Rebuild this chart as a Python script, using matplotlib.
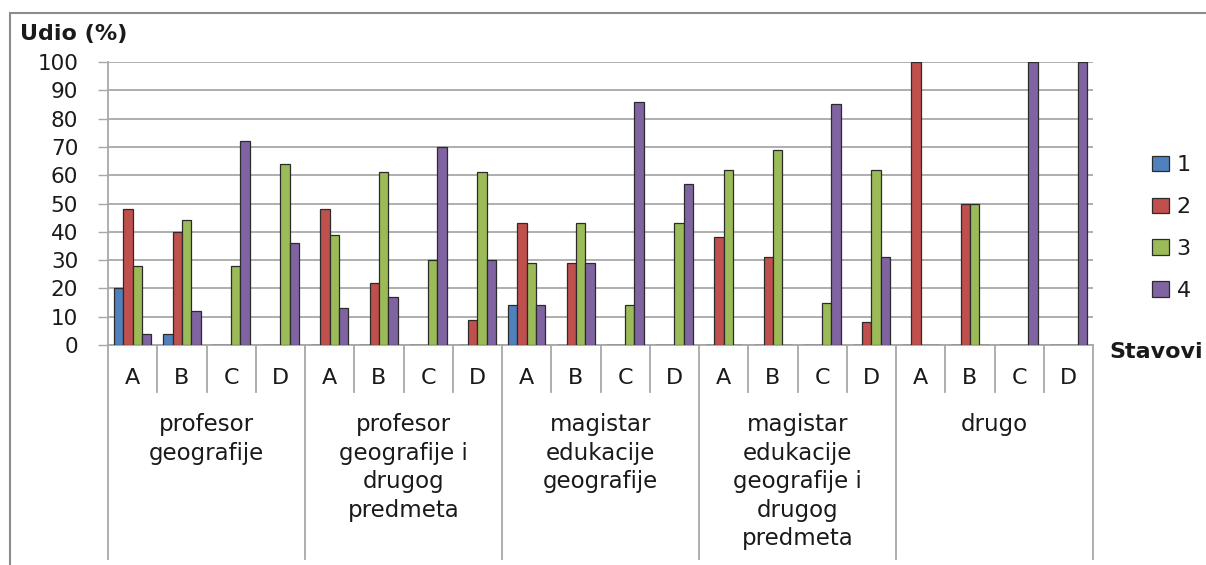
import matplotlib
matplotlib.use("Agg")
import matplotlib.pyplot as plt
import matplotlib.transforms as mtransforms
from matplotlib.patches import Rectangle
import numpy as np

plt.rcParams['font.family'] = ['DejaVu Sans']

groups = ["profesor\ngeografije",
          "profesor\ngeografije i\ndrugog\npredmeta",
          "magistar\nedukacije\ngeografije",
          "magistar\nedukacije\ngeografije i\ndrugog\npredmeta",
          "drugo"]
stances = ["A", "B", "C", "D"]
series_names = ["1", "2", "3", "4"]

s1 = [20, 4, 0, 0,   0, 0, 0, 0,    14, 0, 0, 0,   0, 0, 0, 0,    0, 0, 0, 0]
s2 = [48, 40, 0, 0,  48, 22, 0, 9,  43, 29, 0, 0,  38, 31, 0, 8,  100, 50, 0, 0]
s3 = [28, 44, 28, 64, 39, 61, 30, 61, 29, 43, 14, 43, 62, 69, 15, 62, 0, 50, 0, 0]
s4 = [4, 12, 72, 36, 13, 17, 70, 30, 14, 29, 86, 57, 0, 0, 85, 31, 0, 0, 100, 100]
series = [s1, s2, s3, s4]
colors = ["#4F81BD", "#C0504D", "#9BBB59", "#8064A2"]

W, H = 1206, 565
fig = plt.figure(figsize=(W / 100, H / 100), dpi=100)
x0, x1, ytop, ybot = 108, 1093, 62, 345
ax = fig.add_axes([x0 / W, (H - ybot) / H, (x1 - x0) / W, (ybot - ytop) / H])

ncat = len(groups) * len(stances)
x = np.arange(ncat) + 0.5
bw = 0.19
grid_c = "#A8A8A8"
txt_c = "#1a1a1a"
for i, (vals, c, name) in enumerate(zip(series, colors, series_names)):
    ax.bar(x + (i - 1.5) * bw, vals, width=bw, color=c, edgecolor="#2b2b2b",
           linewidth=0.9, label=name, zorder=3)

ax.set_xlim(0, ncat)
ax.set_ylim(0, 100)
ax.set_yticks(np.arange(0, 101, 10))
ax.set_xticks([])
ax.grid(axis="y", color=grid_c, linewidth=1.3, zorder=0)
for s in ["top", "right"]:
    ax.spines[s].set_visible(False)
ax.spines["left"].set_color(grid_c)
ax.spines["left"].set_linewidth(1.3)
ax.spines["bottom"].set_color(grid_c)
ax.spines["bottom"].set_linewidth(1.3)
ax.tick_params(axis="y", direction="out", length=7.5, width=1.0, color=grid_c,
               pad=14, labelsize=15.5, labelcolor=txt_c)

# category table below axis
trans = mtransforms.blended_transform_factory(ax.transData, ax.transAxes)
px = 1.0 / (ybot - ytop)
y_letter_bot = -(392 - ybot) * px
y_group_bot = -(559 - ybot) * px
for k in range(ncat + 1):
    yb = y_group_bot if k % 4 == 0 else y_letter_bot
    ax.plot([k, k], [0, yb], transform=trans, color=grid_c, linewidth=1.3,
            clip_on=False)
for k in range(ncat):
    ax.text(k + 0.5, -(378 - ybot) * px, stances[k % 4], transform=trans,
            ha="center", va="center", fontsize=16, color=txt_c)
for g, label in enumerate(groups):
    ax.text(g * 4 + 2, -(413 - ybot) * px, label, transform=trans,
            ha="center", va="top", fontsize=16.5, color=txt_c,
            linespacing=1.31)

fig.text(20 / W, 1 - 34 / H, "Udio (%)", fontsize=16, fontweight="bold",
         ha="left", va="center", color=txt_c)
fig.text(1109 / W, 1 - 352 / H, "Stavovi", fontsize=16, fontweight="bold",
         ha="left", va="center", color=txt_c)

# legend
handles, labels = ax.get_legend_handles_labels()
leg = fig.legend(handles, labels, loc="center left",
                 bbox_to_anchor=(1141 / W, 1 - 228 / H), frameon=False,
                 fontsize=16, handlelength=0.75, handleheight=0.7,
                 handletextpad=0.35, labelspacing=0.98, borderpad=0)
for t in leg.get_texts():
    t.set_color(txt_c)

# figure border
fig.patches.append(Rectangle((10 / W, -0.05), 1.2, 1 - 13 / H + 0.05,
                             transform=fig.transFigure, fill=False,
                             edgecolor="#8c8c8c", linewidth=1.5))

fig.savefig("out.png", dpi=100)
